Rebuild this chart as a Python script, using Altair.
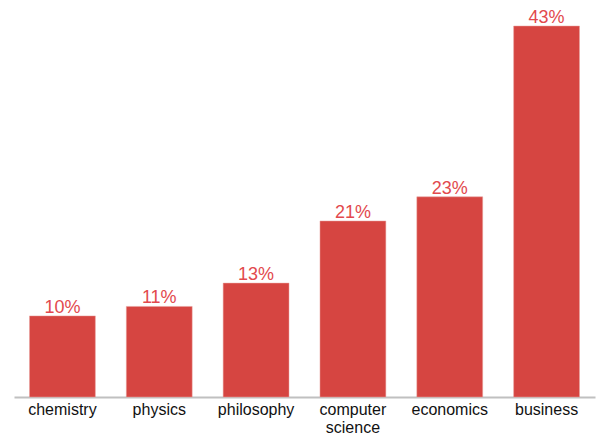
import altair as alt
import pandas as pd

subjects = ["chemistry", "physics", "philosophy", "computer science", "economics", "business"]
values = [9.4, 10.5, 13.2, 20.4, 23.2, 43.0]
labels = ["10%", "11%", "13%", "21%", "23%", "43%"]

df = pd.DataFrame({"subject": subjects, "value": values, "label": labels})

x = alt.X("subject:N", sort=subjects, title=None,
          scale=alt.Scale(paddingInner=0.32, paddingOuter=0.16),
          axis=alt.Axis(labelAngle=0, ticks=False, domainColor="#c0c0c0", domainWidth=2,
                        labelFont="Liberation Sans", labelFontSize=16, labelColor="#111111",
                        labelPadding=4, labelExpr="split(datum.label, ' ')", labelLineHeight=18))
y = alt.Y("value:Q", title=None, scale=alt.Scale(domain=[0, 43], nice=False, zero=True), axis=None)

bars = alt.Chart(df).mark_bar(color="#d64541", stroke="#e8a09c", strokeWidth=0.5).encode(x=x, y=y)
text = alt.Chart(df).mark_text(baseline="alphabetic", dy=-3, font="Liberation Sans", fontSize=18,
                               color="#e2494d").encode(x=x, y=y, text="label:N")

chart = (bars + text).properties(
    width=581, height=371,
    background="white",
    padding={"left": 14, "top": 26, "right": 5, "bottom": 38},
    autosize=alt.AutoSizeParams(type="none"),
).configure_view(strokeWidth=0, stroke=None)

chart.save("out.html", embed_options={"renderer": "svg", "actions": False})
